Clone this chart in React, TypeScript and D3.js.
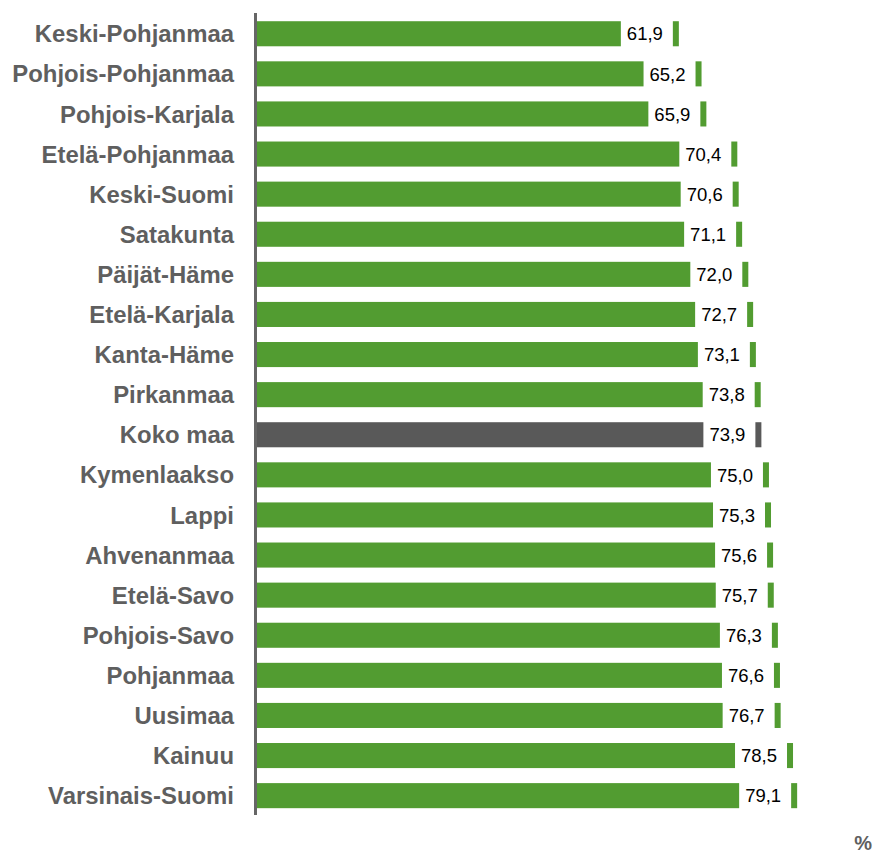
import React from "react";
import * as d3 from "d3";

const regions = [
  "Keski-Pohjanmaa",
  "Pohjois-Pohjanmaa",
  "Pohjois-Karjala",
  "Etelä-Pohjanmaa",
  "Keski-Suomi",
  "Satakunta",
  "Päijät-Häme",
  "Etelä-Karjala",
  "Kanta-Häme",
  "Pirkanmaa",
  "Koko maa",
  "Kymenlaakso",
  "Lappi",
  "Ahvenanmaa",
  "Etelä-Savo",
  "Pohjois-Savo",
  "Pohjanmaa",
  "Uusimaa",
  "Kainuu",
  "Varsinais-Suomi",
];

const values = [
  61.9, 65.2, 65.9, 70.4, 70.6, 71.1, 72.0, 72.7, 73.1, 73.8, 73.9, 75.0, 75.3,
  75.6, 75.7, 76.3, 76.6, 76.7, 78.5, 79.1,
];

const highlight = "Koko maa";

const width = 875;
const height = 853;
const axisX = 257;
const top = 13.7;
const bottom = 815.7;

export default function App() {
  const x = d3.scaleLinear().domain([9, 80]).range([axisX, axisX + 71 * 6.878]);
  const y = d3
    .scaleBand<string>()
    .domain(regions)
    .range([top, bottom])
    .paddingInner(0.375)
    .paddingOuter(0.1875);

  const fmt = (v: number) => v.toFixed(1).replace(".", ",");

  return (
    <svg
      width={width}
      height={height}
      style={{ position: "absolute", left: 0, top: 0 }}
      fontFamily="'Liberation Sans', Arial, sans-serif"
    >
      {regions.map((r, i) => {
        const v = values[i];
        const color = r === highlight ? "#595959" : "#529c31";
        const y0 = y(r)!;
        const bh = y.bandwidth();
        const end = x(v);
        return (
          <g key={r}>
            <rect x={axisX} y={y0} width={end - axisX} height={bh} fill={color} />
            <rect x={end + 52} y={y0} width={6} height={bh} fill={color} />
            <text
              x={end + 6}
              y={y0 + bh / 2}
              dy="0.36em"
              fontSize={18.5}
              fill="#000"
            >
              {fmt(v)}
            </text>
            <text
              x={234}
              y={y0 + bh / 2}
              dy="0.36em"
              textAnchor="end"
              fontSize={23.9}
              fontWeight="bold"
              fill="#5f5f5f"
            >
              {r}
            </text>
          </g>
        );
      })}
      <line x1={255.5} x2={255.5} y1={13} y2={815} stroke="#666" strokeWidth={3} />
      <text x={872} y={850} textAnchor="end" fontSize={20} fontWeight="bold" fill="#5f5f5f">
        %
      </text>
    </svg>
  );
}
